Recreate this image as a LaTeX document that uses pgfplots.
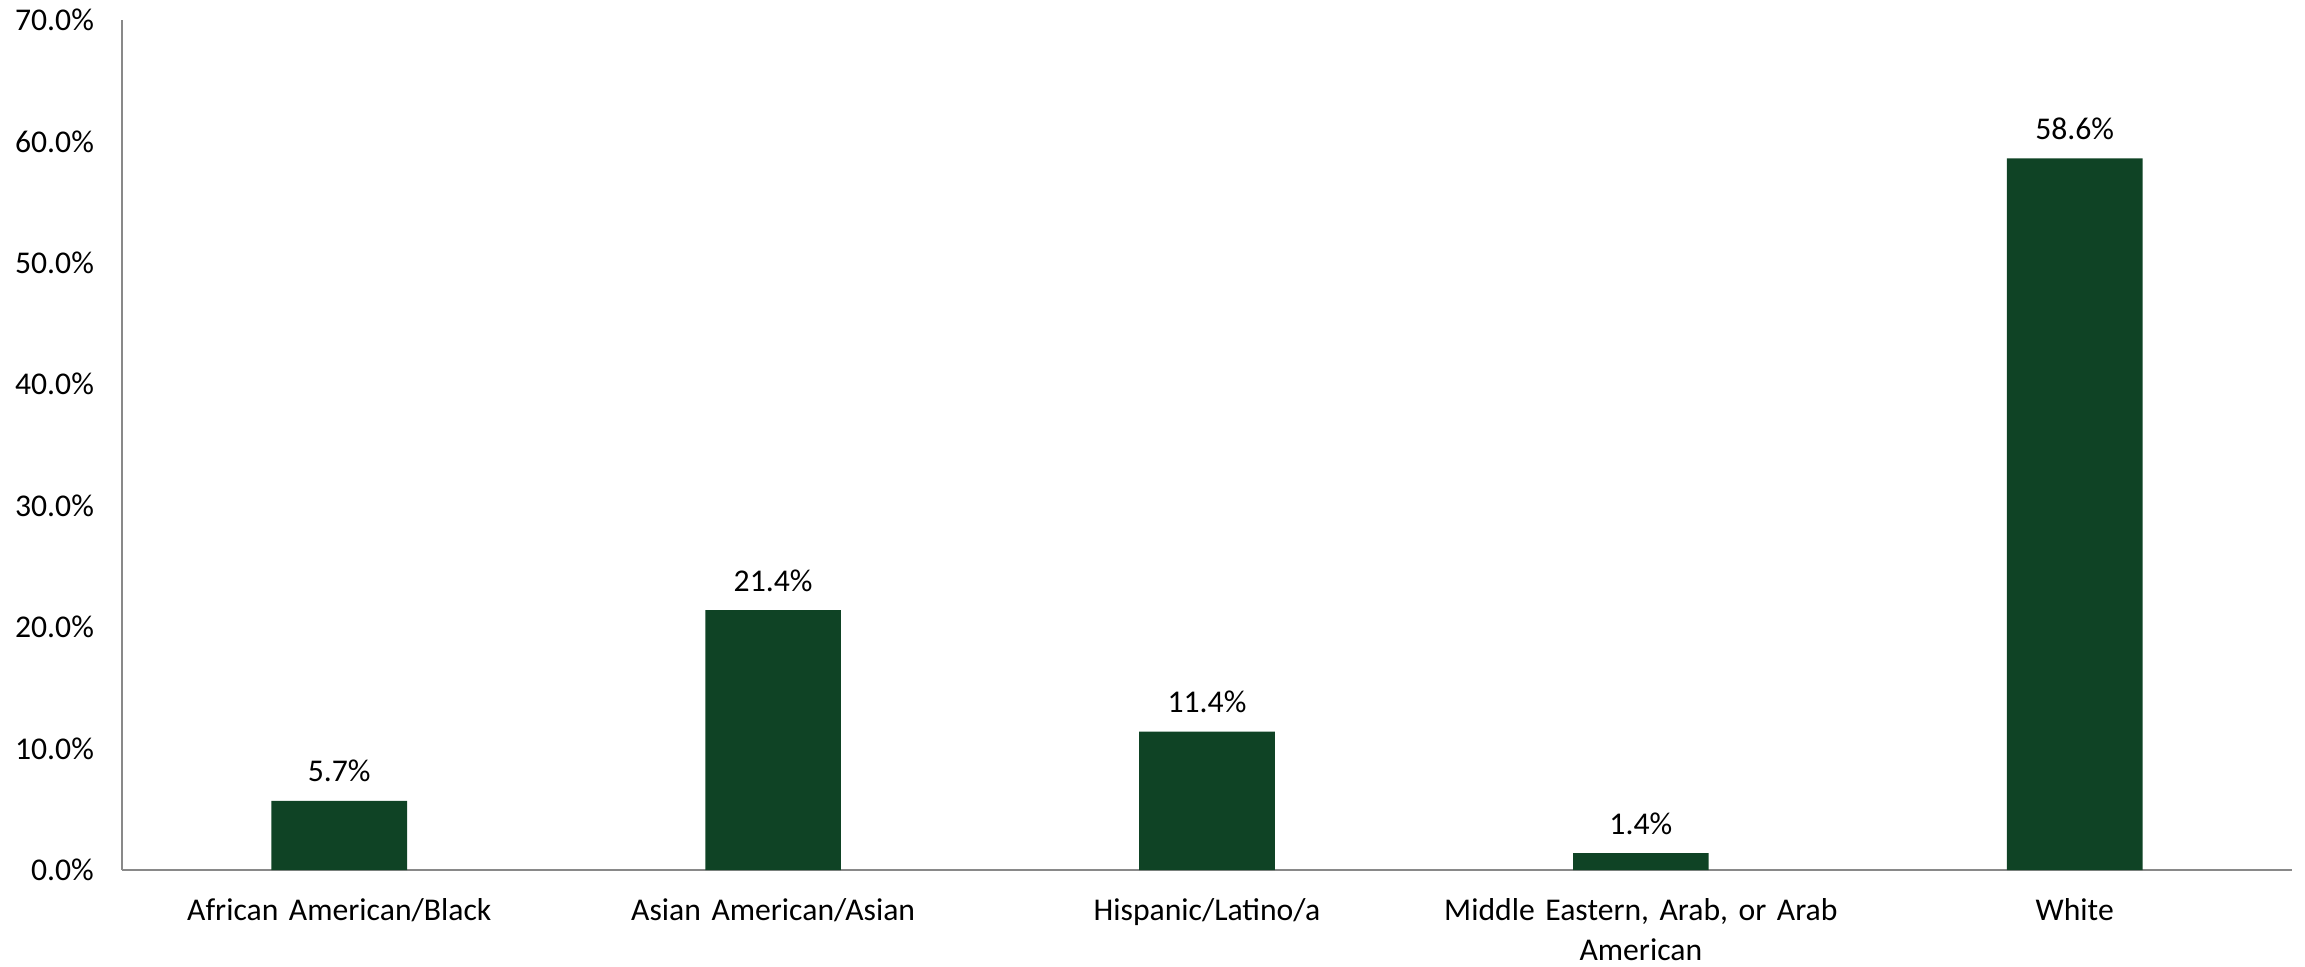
\documentclass[border=0pt]{standalone}
\usepackage{pgfplots}
\pgfplotsset{compat=1.18}
\usepackage{fontspec}
\setmainfont{Carlito}
\definecolor{bargreen}{RGB}{15,67,37}
\definecolor{axisgray}{RGB}{137,137,137}
\begin{document}
\begin{tikzpicture}
\begin{axis}[
  at={(0,0)}, anchor=south west,
  scale only axis,
  width=650.8pt, height=255pt,
  xmin=-0.5, xmax=4.5,
  ymin=0, ymax=70,
  axis x line=bottom, axis y line=left,
  axis line style={axisgray, line width=0.7pt, -},
  major tick length=0pt,
  xtick=data,
  xticklabels={African American/Black, Asian American/Asian, Hispanic/Latino/a, {Middle Eastern, Arab, or Arab\\American}, White},
  xticklabel style={font=\fontsize{9.5}{12}\selectfont, align=center, text width=150pt, anchor=north, yshift=-5pt},
  ytick={0,10,...,70},
  yticklabel={\pgfmathprintnumber[fixed,precision=1,zerofill]{\tick}\%},
  yticklabel style={font=\fontsize{9.5}{11.5}\selectfont, xshift=-5pt},
  /pgf/number format/assume math mode=true,
  ybar, bar width=40.7pt,
  nodes near coords={\pgfmathprintnumber[fixed,precision=1,zerofill,assume math mode=true]{\pgfplotspointmeta}\%},
  every node near coord/.append style={font=\fontsize{9.5}{11.5}\selectfont, anchor=base, yshift=5.7pt, black},
  clip=false,
]
\addplot[fill=bargreen, draw=none] coordinates {(0,5.7) (1,21.4) (2,11.4) (3,1.4) (4,58.6)};
\end{axis}
\pgfresetboundingbox
\useasboundingbox (-36.7pt,-28.8pt) rectangle (654.8pt,261pt);
\end{tikzpicture}
\end{document}
